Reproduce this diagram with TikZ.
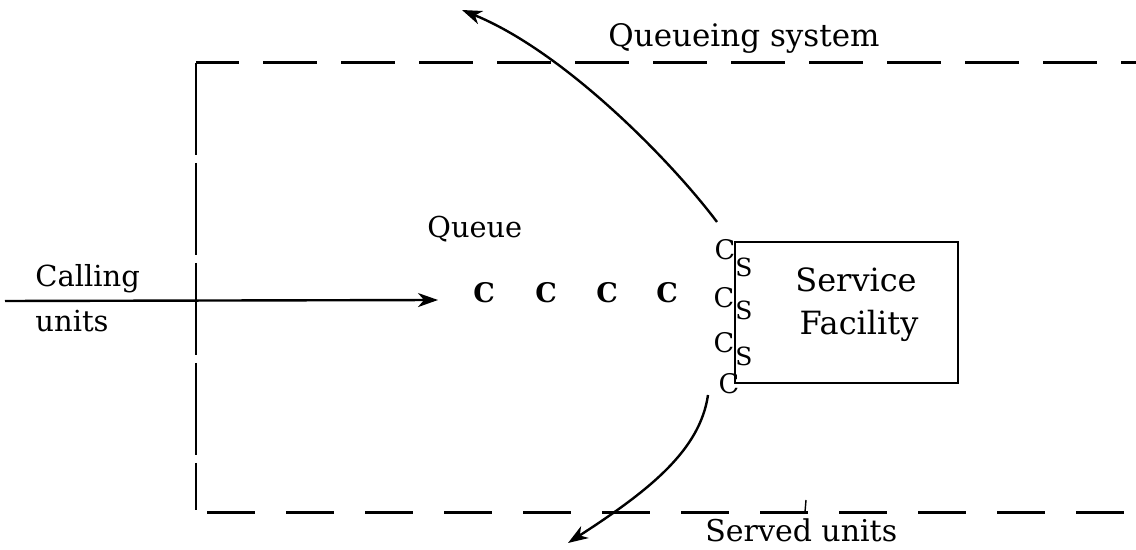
\documentclass[tikz,border=0pt]{standalone}
\usepackage{fontspec}
\setmainfont{DejaVu Serif}
\usetikzlibrary{arrows.meta}
\begin{document}
\begin{tikzpicture}[x=0.5pt,y=-0.5pt,
  txt/.style={inner sep=0pt, anchor=base west},
  qunit/.style={inner sep=0pt, anchor=base, font=\bfseries\fontsize{13.5}{14}\selectfont},
  cust/.style={inner sep=0pt, anchor=base, font=\fontsize{13.5}{14}\selectfont},
  srv/.style={inner sep=0pt, anchor=base, font=\fontsize{12.5}{14}\selectfont},
  flow/.style={line width=1.2pt, -{Stealth[length=10pt,width=7pt,inset=3pt]}},
  topline/.style={line width=1.5pt, dash pattern=on 27pt off 12pt, dash phase=5.5pt},
  botline/.style={line width=1.5pt, dash pattern=on 24pt off 15.5pt},
  sideline/.style={line width=0.8pt, dash pattern=on 46pt off 4pt}]
\useasboundingbox (0,0) rectangle (1136,550);

% queueing system boundary
\coordinate (tl) at (196,63);
\coordinate (tr) at (1136,63);
\coordinate (bl) at (196,510);
\coordinate (bs) at (207,513);
\coordinate (br) at (1136,513);
\draw[topline] (tl) -- (tr);
\draw[botline] (bs) -- (br);
\draw[sideline] (tl) -- (bl);
\coordinate (tick) at (806,500);
\coordinate (tickb) at (805,512);
\draw[line width=0.7pt] (tick) -- (tickb);

\node[txt, font=\fontsize{15.5}{17}\selectfont] (sys) at (608,47) {Queueing system};
\node[txt, font=\fontsize{14.4}{16}\selectfont] (queue) at (427,238) {Queue};
\node[txt, font=\fontsize{14.5}{16}\selectfont] (calling) at (35,287) {Calling};
\node[txt, font=\fontsize{14.5}{16}\selectfont] (units) at (35,332) {units};
\node[txt, font=\fontsize{15}{17}\selectfont] (served) at (705,542) {Served units};

% arrivals
\coordinate (src) at (5,301);
\coordinate (arr) at (438,300);
\draw[flow] (src) -- (arr);

% waiting line
\node[qunit] (c1) at (484,303) {C};
\node[qunit] (c2) at (546,303) {C};
\node[qunit] (c3) at (607,303) {C};
\node[qunit] (c4) at (667,303) {C};

% service facility
\node[draw, line width=1.2pt, minimum width=111.5pt, minimum height=70.5pt, inner sep=0pt]
  (fac) at (846.5,312.5) {};
\node[inner sep=0pt, anchor=base, font=\fontsize{16}{18}\selectfont] (svc) at (856,292) {Service};
\node[inner sep=0pt, anchor=base, font=\fontsize{16}{18}\selectfont] (fcl) at (859,335) {Facility};

% customers in service and servers
\node[cust] (sc1) at (725,260) {C};
\node[cust] (sc2) at (724,308) {C};
\node[cust] (sc3) at (724,353) {C};
\node[cust] (sc4) at (729,394) {C};
\node[srv] (ss1) at (744,277) {S};
\node[srv] (ss2) at (744,320) {S};
\node[srv] (ss3) at (744,366) {S};

% leaving without service, and served units departing
\coordinate (upstart) at (717,222);
\coordinate (up) at (462,10);
\coordinate (downstart) at (708,395);
\coordinate (down) at (568,543);
\draw[flow] (upstart) .. controls (672,162) and (565,52) .. (up);
\draw[flow] (downstart) .. controls (700,450) and (650,490) .. (down);
\end{tikzpicture}
\end{document}
